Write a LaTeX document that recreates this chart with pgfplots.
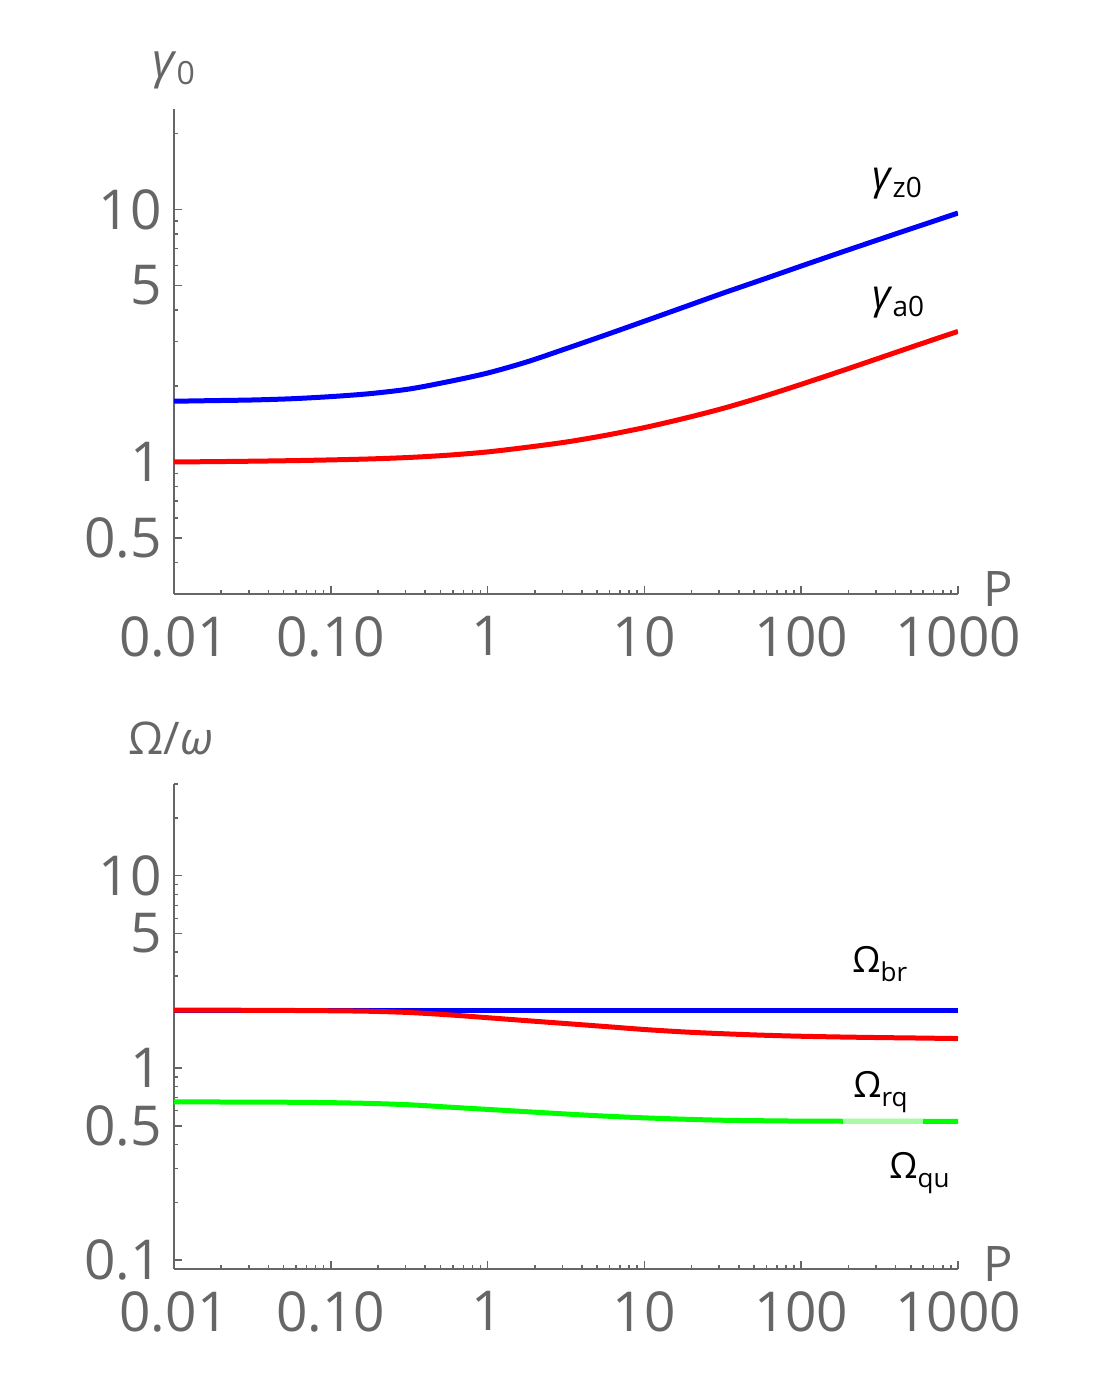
\documentclass[border=0pt]{standalone}
\usepackage{fontspec}
\setmainfont{Open Sans}
\usepackage{pgfplots}
\pgfplotsset{compat=1.18}
\definecolor{axgray}{RGB}{102,102,102}
\definecolor{pblue}{RGB}{0,0,255}
\definecolor{pred}{RGB}{255,0,0}
\definecolor{pgreen}{RGB}{0,255,0}
\definecolor{lgreen}{RGB}{170,250,170}
\begin{document}
\begin{tikzpicture}
\path[use as bounding box] (0,0) rectangle (553pt,687.5pt);
% top panel
\begin{axis}[xmode=log, ymode=log, scale only axis, width=392pt, height=242.5pt,
  at={(87pt,390.5pt)}, anchor=south west,
  xmin=0.01, xmax=1000, ymin=0.3, ymax=25,
  axis lines*=left,
  axis line style={axgray, line width=0.75pt},
  every tick/.style={axgray, line width=0.75pt},
  tick align=inside,
  major tick length=4pt, minor tick length=2pt,
  xtick={0.01,0.1,1,10,100,1000},
  xticklabels={0.01,0.10,1,10,100,1000},
  minor xtick={0.02,0.03,0.04,0.05,0.06,0.07,0.08,0.09,
               0.2,0.3,0.4,0.5,0.6,0.7,0.8,0.9,
               2,3,4,5,6,7,8,9,20,30,40,50,60,70,80,90,
               200,300,400,500,600,700,800,900},
  ytick={0.5,1,5,10}, yticklabels={0.5,1,5,10},
  minor ytick={0.3,0.4,0.6,0.7,0.8,0.9,2,3,4,6,7,8,9,20},
  tick label style={font=\fontsize{27.5}{27.5}\selectfont, text=axgray, inner sep=0pt},
  xticklabel style={anchor=north, yshift=-11pt},
  yticklabel style={anchor=east, xshift=-6pt}]
\addplot[pblue, line width=2.5pt, smooth] coordinates {
(0.01,1.74) (0.01778,1.75) (0.03162,1.76) (0.05623,1.78) (0.1,1.815)
(0.1778,1.865) (0.3162,1.945) (0.5623,2.08) (1,2.25) (1.778,2.49)
(3.162,2.81) (5.623,3.18) (10,3.61) (17.78,4.10) (31.62,4.66)
(56.23,5.27) (100,5.97) (177.8,6.75) (316.2,7.62) (562.3,8.59) (1000,9.68)};
\addplot[pred, line width=2.5pt, smooth] coordinates {
(0.01,1.0) (0.01778,1.003) (0.03162,1.007) (0.05623,1.012) (0.1,1.019)
(0.1778,1.028) (0.3162,1.042) (0.5623,1.064) (1,1.096) (1.778,1.143)
(3.162,1.199) (5.623,1.274) (10,1.368) (17.78,1.486) (31.62,1.629)
(56.23,1.81) (100,2.03) (177.8,2.286) (316.2,2.582) (562.3,2.917) (1000,3.289)};
\end{axis}
% bottom panel
\begin{axis}[xmode=log, ymode=log, scale only axis, width=392pt, height=242.5pt,
  at={(87pt,53pt)}, anchor=south west,
  xmin=0.01, xmax=1000, ymin=0.09, ymax=30,
  axis lines*=left,
  axis line style={axgray, line width=0.75pt},
  every tick/.style={axgray, line width=0.75pt},
  tick align=inside,
  major tick length=4pt, minor tick length=2pt,
  xtick={0.01,0.1,1,10,100,1000},
  xticklabels={0.01,0.10,1,10,100,1000},
  minor xtick={0.02,0.03,0.04,0.05,0.06,0.07,0.08,0.09,
               0.2,0.3,0.4,0.5,0.6,0.7,0.8,0.9,
               2,3,4,5,6,7,8,9,20,30,40,50,60,70,80,90,
               200,300,400,500,600,700,800,900},
  ytick={0.1,0.5,1,5,10}, yticklabels={0.1,0.5,1,5,10},
  minor ytick={0.2,0.3,0.4,0.6,0.7,0.8,0.9,2,3,4,6,7,8,9,20,30},
  tick label style={font=\fontsize{27.5}{27.5}\selectfont, text=axgray, inner sep=0pt},
  xticklabel style={anchor=north, yshift=-11pt},
  yticklabel style={anchor=east, xshift=-6pt}]
\addplot[pblue, line width=2.5pt] coordinates {
(0.01,2.0) (0.1,2.0) (1,2.0) (10,2.0) (100,2.0) (1000,2.0)};
\addplot[pred, line width=2.5pt, smooth] coordinates {
(0.01,2.0) (0.01778,2.0) (0.03162,1.995) (0.05623,1.991) (0.1,1.984)
(0.1778,1.972) (0.3162,1.943) (0.5623,1.890) (1,1.826) (1.778,1.762)
(3.162,1.702) (5.623,1.643) (10,1.585) (17.78,1.540) (31.62,1.507)
(56.23,1.481) (100,1.462) (177.8,1.449) (316.2,1.439) (562.3,1.431) (1000,1.422)};
\addplot[pgreen, line width=2.5pt, smooth] coordinates {
(0.01,0.6659) (0.01778,0.6653) (0.03162,0.6645) (0.05623,0.6630) (0.1,0.6600)
(0.1778,0.6539) (0.3162,0.6435) (0.5623,0.6259) (1,0.6088) (1.778,0.5922)
(3.162,0.5761) (5.623,0.5617) (10,0.5502) (17.78,0.5414) (31.62,0.5346)
(56.23,0.5315) (100,0.5291) (177.8,0.5282) (316.2,0.5276) (562.3,0.5272) (1000,0.5272)};
\addplot[lgreen, line width=2.5pt] coordinates {(185,0.5281) (598,0.5272)};
\end{axis}
% text in pixel coordinates
\begin{scope}[x=0.5pt,y=-0.5pt,shift={(0,687.5pt)}]
\node[anchor=base west, inner sep=0pt, text=axgray] at (152,78)
  {\fontsize{24}{24}\selectfont\textit{γ}\raisebox{-3.5pt}{\fontsize{16}{16}\selectfont 0}};
\node[anchor=base west, inner sep=0pt, text=axgray] at (128,755)
  {\fontsize{22.5}{22.5}\selectfont Ω/\textit{ω}};
\node[anchor=base west, inner sep=0pt, text=axgray] at (983,607)
  {\fontsize{24.5}{24.5}\selectfont P};
\node[anchor=base west, inner sep=0pt, text=axgray] at (983,1282)
  {\fontsize{24.5}{24.5}\selectfont P};
\node[anchor=base west, inner sep=0pt] at (872,190)
  {\fontsize{20}{20}\selectfont\textit{γ}\raisebox{-4pt}{\fontsize{14}{14}\selectfont z0}};
\node[anchor=base west, inner sep=0pt] at (872,309)
  {\fontsize{20}{20}\selectfont\textit{γ}\raisebox{-4pt}{\fontsize{14}{14}\selectfont a0}};
\node[anchor=base west, inner sep=0pt] at (852,973)
  {\fontsize{18}{18}\selectfont Ω\raisebox{-4.5pt}{\fontsize{13}{13}\selectfont br}};
\node[anchor=base west, inner sep=0pt] at (853,1098)
  {\fontsize{18}{18}\selectfont Ω\raisebox{-4.5pt}{\fontsize{13}{13}\selectfont rq}};
\node[anchor=base west, inner sep=0pt] at (889,1179)
  {\fontsize{18}{18}\selectfont Ω\raisebox{-4.5pt}{\fontsize{13}{13}\selectfont qu}};
\end{scope}
\end{tikzpicture}
\end{document}
